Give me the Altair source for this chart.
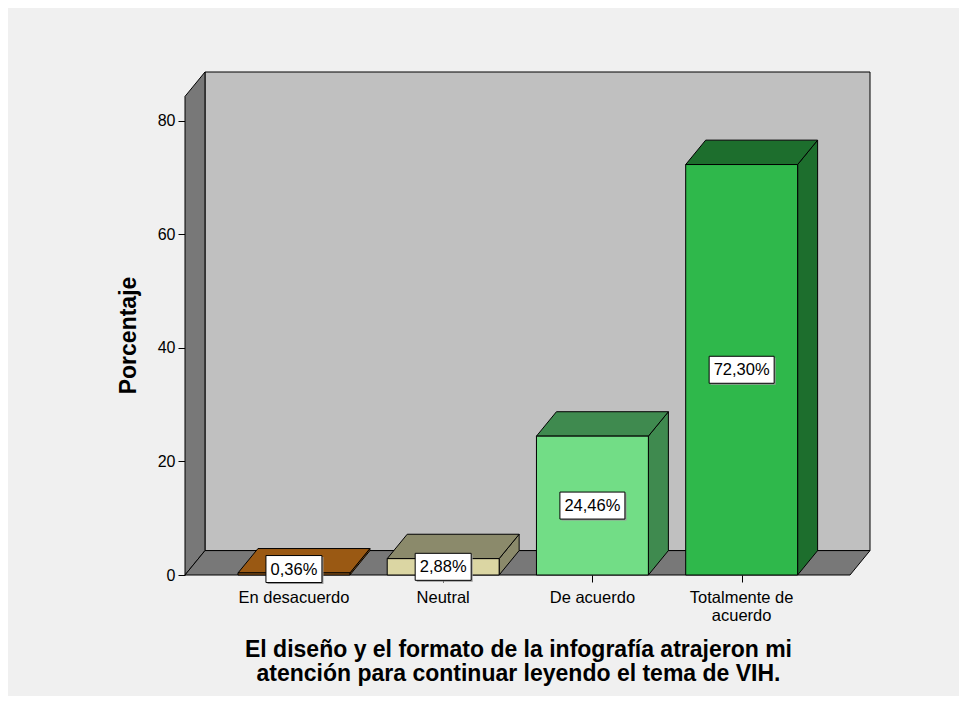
import altair as alt
import pandas as pd

# ---------------- data ----------------
categories = ["En desacuerdo", "Neutral", "De acuerdo", "Totalmente de acuerdo"]
axis_labels = ["En desacuerdo", "Neutral", "De acuerdo", "Totalmente de\nacuerdo"]
values = [0.36, 2.88, 24.46, 72.30]
label_texts = ["0,36%", "2,88%", "24,46%", "72,30%"]
front_colors = ["#a8651c", "#dbd6a3", "#72dd86", "#2fb84b"]
top_colors = ["#9a5913", "#8b8a6b", "#3f8a4f", "#1d6e2d"]
y_ticks = [0, 20, 40, 60, 80]
x_title = ["El diseño y el formato de la infografía atrajeron mi",
           "atención para continuar leyendo el tema de VIH."]
y_title = "Porcentaje"

# ---------------- geometry (data units) ----------------
X_MIN, X_MAX = -0.73, 3.86
Y_MAX = 88.6
DX, DY = 0.134, 4.3      # depth offsets of the pseudo-3D frame
HALF = 0.375             # half bar width
FONT = "Liberation Sans"

xs = alt.Scale(domain=[X_MIN, X_MAX], nice=False, zero=False)
ys = alt.Scale(domain=[0, Y_MAX], nice=False, zero=False)

ax_x = alt.Axis(values=[0, 1, 2, 3], labels=False, ticks=True, tickSize=7,
                tickColor="black", tickWidth=1, domain=False, grid=False,
                title=x_title, titleFont=FONT, titleFontSize=23,
                titleFontWeight="bold", titleColor="black", titleX=333,
                titleY=81, titleAlign="center", titleBaseline="alphabetic",
                titleLineHeight=24)
ax_y = alt.Axis(values=y_ticks, tickSize=7, tickColor="black", tickWidth=1,
                domain=False, grid=False, labelFont=FONT, labelFontSize=16,
                labelColor="black", labelPadding=3, title=y_title,
                titleFont=FONT, titleFontSize=23, titleFontWeight="bold",
                titleColor="black", titleX=-50, titleY=263, titleAngle=270,
                titleAlign="center", titleBaseline="alphabetic")


def X(f):
    return alt.X(f, scale=xs, axis=ax_x)


def Y(f):
    return alt.Y(f, scale=ys, axis=ax_y, stack=None)


# ---------------- frame ----------------
back_df = pd.DataFrame([{"x": X_MIN + DX, "x2": X_MAX, "y": DY, "y2": Y_MAX}])
back = alt.Chart(back_df).mark_rect(fill="#c0c0c0", stroke="black", strokeWidth=1).encode(
    x=X("x:Q"), x2="x2:Q", y=Y("y:Q"), y2="y2:Q")

left_df = pd.DataFrame([
    {"x": X_MIN, "y": 0, "y2": Y_MAX - DY},
    {"x": X_MIN + DX, "y": DY, "y2": Y_MAX},
])
left = alt.Chart(left_df).mark_area(fill="#787878", stroke="black", strokeWidth=1,
                                    orient="vertical", opacity=1).encode(
    x=X("x:Q"), y=Y("y:Q"), y2="y2:Q")

floor_df = pd.DataFrame([
    {"y": 0, "x": X_MIN, "x2": X_MAX - DX},
    {"y": DY, "x": X_MIN + DX, "x2": X_MAX},
])
floor = alt.Chart(floor_df).mark_area(fill="#787878", stroke="black", strokeWidth=1,
                                      orient="horizontal", opacity=1).encode(
    y=Y("y:Q"), x=X("x:Q"), x2="x2:Q")

# ---------------- bars ----------------
front_rows, top_rows, side_rows, lab_rows, cat_rows = [], [], [], [], []
for i, (c, v, t, fc, tc, al) in enumerate(zip(categories, values, label_texts,
                                              front_colors, top_colors, axis_labels)):
    front_rows.append({"cat": c, "x": i - HALF, "x2": i + HALF, "y": 0, "y2": v, "col": fc})
    top_rows.append({"cat": c, "y": v, "x": i - HALF, "x2": i + HALF, "col": tc})
    top_rows.append({"cat": c, "y": v + DY, "x": i - HALF + DX, "x2": i + HALF + DX, "col": tc})
    side_rows.append({"cat": c, "x": i + HALF, "y": 0, "y2": v, "col": tc})
    side_rows.append({"cat": c, "x": i + HALF + DX, "y": DY, "y2": v + DY, "col": tc})
    w = 9 * len(t) + 11
    h = 27 / w
    lab_rows.append({"cat": c, "x": i, "y": max(v / 2, 1.05), "text": t,
                     "shape": f"M-1,-{h:.4f}L1,-{h:.4f}L1,{h:.4f}L-1,{h:.4f}Z",
                     "size": w * w})
    cat_rows.append({"x": i, "y": 0, "text": al})

front_df = pd.DataFrame(front_rows)
top_df = pd.DataFrame(top_rows)
side_df = pd.DataFrame(side_rows)
lab_df = pd.DataFrame(lab_rows)
cat_df = pd.DataFrame(cat_rows)

side = alt.Chart(side_df).mark_area(stroke="black", strokeWidth=1, orient="vertical",
                                    opacity=1).encode(
    x=X("x:Q"), y=Y("y:Q"), y2="y2:Q", detail="cat:N",
    fill=alt.Fill("col:N", scale=None))

top = alt.Chart(top_df).mark_area(stroke="black", strokeWidth=1, orient="horizontal",
                                  opacity=1).encode(
    y=Y("y:Q"), x=X("x:Q"), x2="x2:Q", detail="cat:N",
    fill=alt.Fill("col:N", scale=None))

front = alt.Chart(front_df).mark_rect(stroke="black", strokeWidth=1).encode(
    x=X("x:Q"), x2="x2:Q", y=Y("y:Q"), y2="y2:Q",
    fill=alt.Fill("col:N", scale=None))

# ---------------- labels ----------------
shadow = alt.Chart(lab_df).mark_point(filled=True, fill="#9a9a9a", strokeWidth=0,
                                      opacity=1, xOffset=1.5, yOffset=1.5).encode(
    x=X("x:Q"), y=Y("y:Q"),
    shape=alt.Shape("shape:N", scale=None), size=alt.Size("size:Q", scale=None))

boxes = alt.Chart(lab_df).mark_point(filled=True, fill="white", stroke="black",
                                     strokeWidth=1, opacity=1, fillOpacity=1,
                                     strokeOpacity=1).encode(
    x=X("x:Q"), y=Y("y:Q"),
    shape=alt.Shape("shape:N", scale=None), size=alt.Size("size:Q", scale=None))

texts = alt.Chart(lab_df).mark_text(font=FONT, fontSize=16.5, color="black",
                                    baseline="middle", align="center", dy=0.5).encode(
    x=X("x:Q"), y=Y("y:Q"), text="text:N")

cat_text = alt.Chart(cat_df).mark_text(font=FONT, fontSize=16.5, color="black",
                                       baseline="alphabetic", align="center", dy=28,
                                       lineBreak="\n", lineHeight=17.5).encode(
    x=X("x:Q"), y=Y("y:Q"), text="text:N")

chart = alt.layer(back, left, floor, side, top, front, shadow, boxes, texts, cat_text).properties(
    width=685, height=503,
    padding={"left": 177, "top": 64, "right": 89, "bottom": 121},
    autosize=alt.AutoSizeParams(type="none"),
    background="#f0f0f0",
).configure_view(stroke=None)

chart.save("out.html", embed_options={"renderer": "svg", "actions": False})
